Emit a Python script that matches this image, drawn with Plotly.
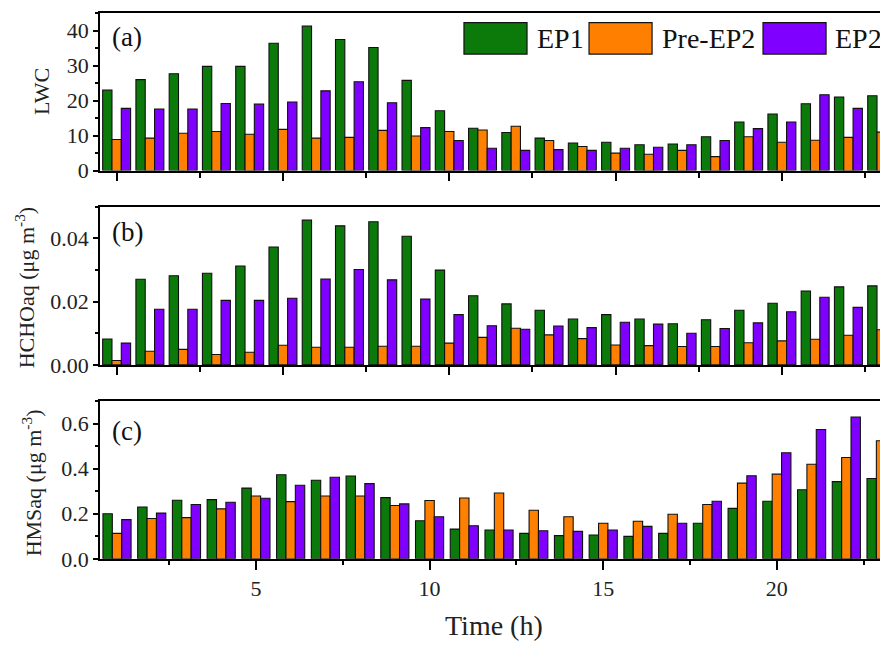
import plotly.graph_objects as go

# ---------------- data ----------------
series_names = ["EP1", "Pre-EP2", "EP2"]
colors = ["#0b7a0b", "#ff8000", "#8000ff"]

# panels (a) and (b): hours 0..23
hours_top = list(range(0, 24))
lwc_ep1 = [23.0, 26.0, 27.7, 29.8, 29.8, 36.4, 41.3, 37.5, 35.2, 25.8, 17.1, 12.1,
           10.9, 9.3, 7.9, 8.1, 7.4, 7.6, 9.7, 13.9, 16.2, 19.1, 21.0, 21.4]
lwc_pre = [8.9, 9.3, 10.7, 11.2, 10.4, 11.8, 9.3, 9.5, 11.5, 9.9, 11.2, 11.6,
           12.7, 8.6, 6.9, 5.0, 4.7, 5.8, 4.0, 9.7, 8.1, 8.7, 9.5, 11.0]
lwc_ep2 = [17.8, 17.6, 17.6, 19.2, 19.0, 19.6, 22.8, 25.4, 19.4, 12.3, 8.6, 6.4,
           5.8, 6.0, 5.8, 6.4, 6.7, 7.4, 8.6, 12.0, 13.9, 21.7, 17.8, 17.6]

hcho_ep1 = [0.0082, 0.0271, 0.0282, 0.0290, 0.0313, 0.0373, 0.0458, 0.0440, 0.0453,
            0.0407, 0.0300, 0.0219, 0.0193, 0.0173, 0.0145, 0.0159, 0.0145, 0.0130,
            0.0143, 0.0173, 0.0195, 0.0234, 0.0247, 0.0250]
hcho_pre = [0.0014, 0.0043, 0.0049, 0.0033, 0.0040, 0.0062, 0.0056, 0.0056, 0.0059,
            0.0059, 0.0069, 0.0087, 0.0116, 0.0095, 0.0083, 0.0063, 0.0061, 0.0058,
            0.0058, 0.0070, 0.0076, 0.0081, 0.0094, 0.0111]
hcho_ep2 = [0.0069, 0.0176, 0.0176, 0.0204, 0.0204, 0.0211, 0.0272, 0.0302, 0.0269,
            0.0208, 0.0159, 0.0124, 0.0113, 0.0123, 0.0118, 0.0135, 0.0129, 0.0100,
            0.0115, 0.0133, 0.0168, 0.0214, 0.0182, 0.0180]

# panel (c): hours 1..23
hours_bot = list(range(1, 24))
hms_ep1 = [0.200, 0.230, 0.260, 0.263, 0.314, 0.373, 0.349, 0.368, 0.272, 0.169,
           0.132, 0.128, 0.113, 0.103, 0.106, 0.100, 0.113, 0.158, 0.224, 0.256,
           0.307, 0.343, 0.357]
hms_pre = [0.113, 0.179, 0.183, 0.222, 0.279, 0.254, 0.279, 0.279, 0.237, 0.259,
           0.270, 0.292, 0.216, 0.187, 0.158, 0.167, 0.198, 0.241, 0.336, 0.376,
           0.420, 0.450, 0.524]
hms_ep2 = [0.174, 0.203, 0.241, 0.251, 0.269, 0.327, 0.362, 0.334, 0.244, 0.187,
           0.147, 0.128, 0.125, 0.122, 0.128, 0.144, 0.158, 0.256, 0.369, 0.471,
           0.574, 0.629, 0.629]

panel_labels = ["(a)", "(b)", "(c)"]
y_titles = ["LWC", "HCHOaq (μg m<sup>-3</sup>)", "HMSaq (μg m<sup>-3</sup>)"]
x_title = "Time (h)"

# ---------------- figure ----------------
FONT = "Liberation Serif"
W, H = 880, 639          # page body adds an 8 px margin around the figure
OFF = 8


def py(p):
    """screen pixel row -> paper y"""
    return 1 - (p - OFF) / H


fig = go.Figure()

panels = [
    (hours_top, [lwc_ep1, lwc_pre, lwc_ep2], "x", "y", 0.28),
    (hours_top, [hcho_ep1, hcho_pre, hcho_ep2], "x2", "y2", 0.28),
    (hours_bot, [hms_ep1, hms_pre, hms_ep2], "x3", "y3", 0.27),
]
for xs, ys_list, xa, ya, w in panels:
    for k, (name, col, ys) in enumerate(zip(series_names, colors, ys_list)):
        fig.add_trace(go.Bar(
            x=xs, y=ys, name=name, xaxis=xa, yaxis=ya,
            width=w, offset=-1.5 * w + k * w,
            marker=dict(color=col, line=dict(color="#111111", width=1.1)),
            showlegend=False,
        ))

axis_common = dict(
    showgrid=False, zeroline=False, showline=True, linecolor="black",
    linewidth=1.8, ticks="outside", tickcolor="black", tickwidth=1.6,
    tickfont=dict(family=FONT, size=22, color="#222"),
)

doms = [(py(174), py(13.3)), (py(372.3), py(211)), (py(570.3), py(409.3))]
xminor = dict(dtick=2.5, tick0=0, ticklen=5, ticks="outside",
              tickcolor="black", tickwidth=1.6)

fig.update_layout(
    width=W, height=H,
    margin=dict(l=100 - OFF, r=0, t=0, b=0),
    plot_bgcolor="white", paper_bgcolor="white",
    barmode="overlay",
    showlegend=False,
    xaxis=dict(axis_common, domain=[0, 1], anchor="y", range=[-0.5, 23.19],
               dtick=5, tick0=0, ticklen=8, showticklabels=False, mirror=True,
               minor=xminor),
    xaxis2=dict(axis_common, domain=[0, 1], anchor="y2", range=[-0.5, 23.19],
                dtick=5, tick0=0, ticklen=8, showticklabels=False, mirror=True,
                minor=xminor),
    xaxis3=dict(axis_common, domain=[0, 1], anchor="y3", range=[0.51, 23.2],
                dtick=5, tick0=0, ticklen=9, showticklabels=True, mirror=True,
                minor=dict(xminor, ticklen=4)),
    yaxis=dict(axis_common, domain=list(doms[0]), anchor="x", range=[0, 45],
               dtick=10, ticklen=5,
               minor=dict(dtick=5, ticklen=3, ticks="outside",
                          tickcolor="black", tickwidth=1.6)),
    yaxis2=dict(axis_common, domain=list(doms[1]), anchor="x2", range=[0, 0.05],
                dtick=0.02, tickformat=".2f", ticklen=5,
                minor=dict(dtick=0.01, ticklen=3, ticks="outside",
                           tickcolor="black", tickwidth=1.6)),
    yaxis3=dict(axis_common, domain=list(doms[2]), anchor="x3", range=[0, 0.7],
                dtick=0.2, tickformat=".1f", ticklen=5,
                minor=dict(dtick=0.1, ticklen=3, ticks="outside",
                           tickcolor="black", tickwidth=1.6)),
)

annotations = []
# panel labels
for lbl, yy in zip(panel_labels, [38, 237, 440]):
    annotations.append(dict(text=lbl, xref="paper", yref="paper", x=0.0127, y=py(yy),
                            xanchor="left", yanchor="middle", showarrow=False,
                            font=dict(family=FONT, size=27, color="#111")))
# y titles
for t, xx, yy in zip(y_titles, [-0.074, -0.095, -0.086], [93, 293, 493]):
    annotations.append(dict(text=t, xref="paper", yref="paper", x=xx, y=py(yy),
                            xanchor="center", yanchor="middle", textangle=-90,
                            showarrow=False,
                            font=dict(family=FONT, size=22, color="#222")))
# x title
annotations.append(dict(text=x_title, xref="paper", yref="paper", x=0.5, y=py(638),
                        xanchor="center", yanchor="middle", showarrow=False,
                        font=dict(family=FONT, size=28, color="#222")))

# legend (drawn manually with big swatches like the original)
leg_x0 = [0.4619, 0.6206, 0.8414]
leg_tx = [0.552, 0.7107, 0.9302]
shapes = []
for name, col, x0, tx in zip(series_names, colors, leg_x0, leg_tx):
    shapes.append(dict(type="rect", xref="paper", yref="paper",
                       x0=x0, x1=x0 + 0.08, y0=py(55), y1=py(23),
                       fillcolor=col, line=dict(color="#111", width=1.2)))
    annotations.append(dict(text=name, xref="paper", yref="paper", x=tx, y=py(39),
                            xanchor="left", yanchor="middle", showarrow=False,
                            font=dict(family=FONT, size=28, color="#111")))

fig.update_layout(annotations=annotations, shapes=shapes)
fig.write_html("out.html")
